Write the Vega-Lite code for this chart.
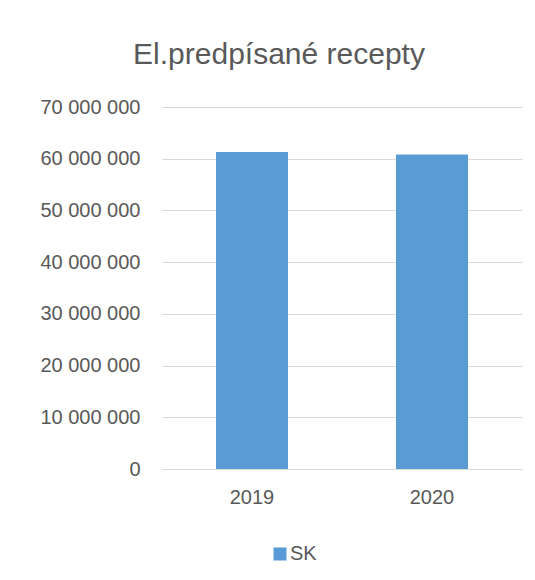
{
  "$schema": "https://vega.github.io/schema/vega-lite/v6.json",
  "width": 360,
  "height": 362,
  "autosize": {"type": "none"},
  "padding": {"left": 162, "top": 107, "right": 13, "bottom": 111},
  "background": "white",
  "title": {
    "text": "El.predpísané recepty",
    "font": "Liberation Sans, Arial, sans-serif",
    "fontSize": 30,
    "fontWeight": "normal",
    "color": "#595959",
    "anchor": "middle",
    "dx": -63,
    "offset": 27
  },
  "data": {
    "values": [
      {"year": "2019", "series": "SK", "value": 61300000},
      {"year": "2020", "series": "SK", "value": 60800000}
    ]
  },
  "mark": {"type": "bar", "color": "#5b9bd5"},
  "encoding": {
    "x": {
      "field": "year",
      "type": "nominal",
      "scale": {"paddingInner": 0.6, "paddingOuter": 0.3},
      "axis": {
        "title": null,
        "labelAngle": 0,
        "ticks": false,
        "domainColor": "#d9d9d9",
        "domainWidth": 1,
        "labelFont": "Liberation Sans, Arial, sans-serif",
        "labelFontSize": 20,
        "labelColor": "#595959",
        "labelPadding": 18
      }
    },
    "y": {
      "field": "value",
      "type": "quantitative",
      "scale": {"domain": [0, 70000000], "nice": false},
      "axis": {
        "title": null,
        "values": [0, 10000000, 20000000, 30000000, 40000000, 50000000, 60000000, 70000000],
        "labelExpr": "replace(format(datum.value, ',d'), /,/g, ' ')",
        "domain": false,
        "ticks": false,
        "gridColor": "#d9d9d9",
        "gridWidth": 1,
        "labelFont": "Liberation Sans, Arial, sans-serif",
        "labelFontSize": 20,
        "labelColor": "#595959",
        "labelPadding": 22
      }
    },
    "color": {
      "field": "series",
      "type": "nominal",
      "scale": {"range": ["#5b9bd5"]},
      "legend": {
        "title": null,
        "orient": "none",
        "legendX": 108,
        "legendY": 437,
        "symbolType": "square",
        "symbolSize": 170,
        "symbolStrokeWidth": 0,
        "labelFont": "Liberation Sans, Arial, sans-serif",
        "labelFontSize": 20,
        "labelColor": "#595959",
        "labelOffset": 0
      }
    }
  },
  "config": {"view": {"stroke": null}}
}
